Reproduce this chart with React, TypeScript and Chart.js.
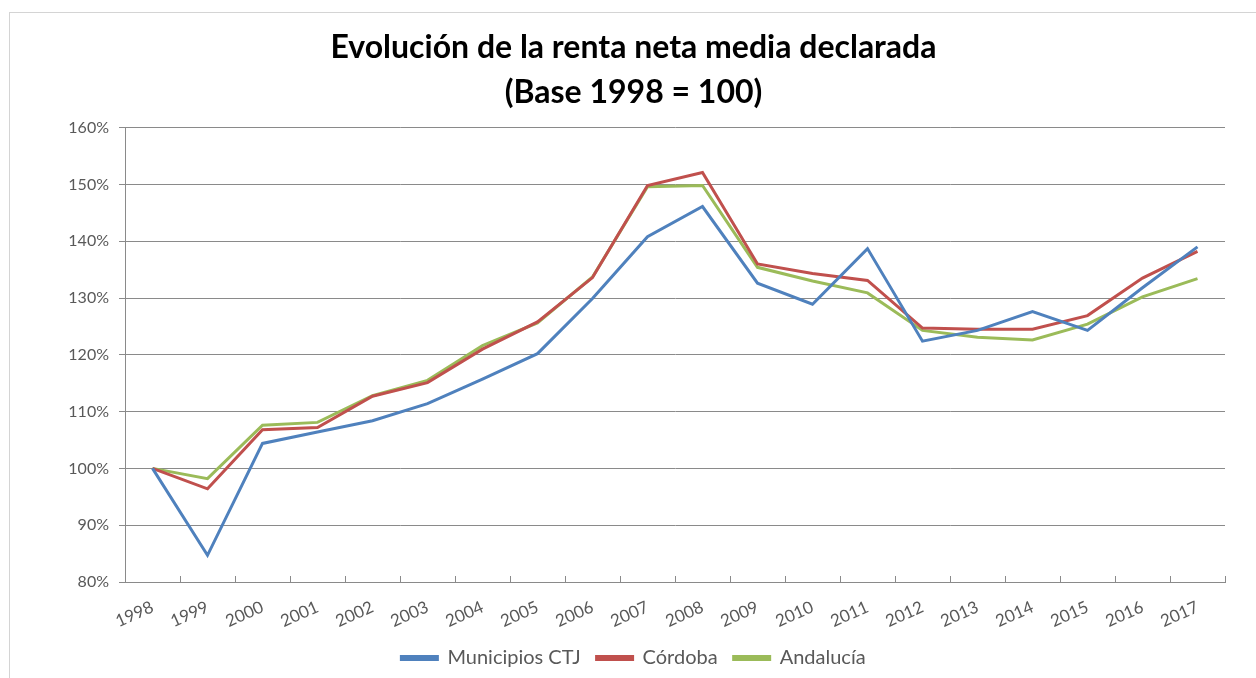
import React, { useEffect, useRef } from "react";
import { Chart, registerables } from "chart.js";

Chart.register(...registerables);

const years = ["1998","1999","2000","2001","2002","2003","2004","2005","2006","2007","2008","2009","2010","2011","2012","2013","2014","2015","2016","2017"];
const municipiosCTJ = [100, 84.7, 104.4, 106.4, 108.4, 111.4, 115.7, 120.2, 129.9, 140.8, 146.1, 132.6, 128.9, 138.7, 122.4, 124.3, 127.6, 124.3, 131.8, 139.0];
const cordoba = [100, 96.4, 106.8, 107.2, 112.7, 115.1, 121.0, 125.8, 133.6, 149.8, 152.1, 136.0, 134.3, 133.1, 124.7, 124.5, 124.5, 126.9, 133.5, 138.2];
const andalucia = [100, 98.2, 107.6, 108.1, 112.8, 115.5, 121.6, 125.6, 133.7, 149.6, 149.8, 135.4, 133.0, 130.9, 124.3, 123.1, 122.6, 125.4, 130.2, 133.4];
const seriesNames = ["Municipios CTJ", "Córdoba", "Andalucía"];
const seriesColors = ["#4F81BD", "#C0504D", "#9BBB59"];
const titleLines = ["Evolución de la renta neta media declarada", "(Base 1998 = 100)"];
const yMin = 80;
const yMax = 160;
const yStep = 10;

const GRID = "#8a8a8a";
const TEXT = "#595959";

const innerTicks = {
  id: "innerTicks",
  afterDraw(chart: any) {
    const xs = chart.scales.x;
    const ctx = chart.ctx;
    const y = chart.chartArea.bottom;
    const n = xs.ticks.length;
    ctx.save();
    ctx.strokeStyle = GRID;
    ctx.lineWidth = 1;
    for (let i = 0; i <= n; i++) {
      let px: number;
      if (i === 0) px = xs.left;
      else if (i === n) px = xs.right;
      else px = (xs.getPixelForTick(i - 1) + xs.getPixelForTick(i)) / 2;
      const rx = Math.round(px) + 0.5;
      ctx.beginPath();
      ctx.moveTo(rx, y);
      ctx.lineTo(rx, y - 6);
      ctx.stroke();
    }
    ctx.restore();
  },
};

export default function App() {
  const ref = useRef<HTMLCanvasElement | null>(null);
  useEffect(() => {
    if (!ref.current) return;
    const data = [municipiosCTJ, cordoba, andalucia];
    const chart = new Chart(ref.current, {
      type: "line",
      data: {
        labels: years,
        datasets: data.map((d, i) => ({
          label: seriesNames[i],
          data: d,
          borderColor: seriesColors[i],
          backgroundColor: seriesColors[i],
          borderWidth: 3,
          pointRadius: 0,
          tension: 0,
          fill: false,
        })),
      },
      options: {
        animation: false,
        responsive: false,
        maintainAspectRatio: false,
        layout: { padding: { left: 42, right: 31, top: 0, bottom: 0 } },
        plugins: {
          tooltip: { enabled: false },
          title: {
            display: true,
            text: titleLines,
            color: "#000",
            font: { family: "Lato", size: 32, weight: "bold", lineHeight: 1.4 },
            padding: { top: 25, bottom: 13 },
          },
          legend: {
            display: true,
            position: "bottom",
            labels: {
              font: { family: "Lato", size: 20 },
              color: TEXT,
              boxWidth: 36,
              boxHeight: 3,
              padding: 16,
            },
          },
        },
        scales: {
          x: {
            type: "category",
            offset: true,
            afterFit(scale: any) { scale.height = 50; },
            grid: { display: true, drawOnChartArea: false, drawTicks: false, offset: true },
            border: { display: true, color: GRID, width: 1 },
            ticks: {
              color: TEXT,
              font: { family: "Lato", size: 17 },
              minRotation: 24,
              maxRotation: 24,
              autoSkip: false,
              padding: 15,
            },
          },
          y: {
            min: yMin,
            max: yMax,
            afterFit(scale: any) { scale.width = 83; },
            grid: { color: GRID, lineWidth: 1, tickLength: 6, drawTicks: true },
            border: { display: true, color: GRID, width: 1 },
            ticks: {
              stepSize: yStep,
              color: TEXT,
              font: { family: "Lato", size: 16 },
              padding: 10,
              callback: (v: any) => `${v}%`,
            },
          },
        },
      },
      plugins: [innerTicks],
    } as any);
    return () => chart.destroy();
  }, []);

  return (
    <div>
      <div
        style={{
          position: "fixed",
          left: 9,
          top: 12,
          width: 1300,
          height: 700,
          border: "1px solid #d4d4d4",
          background: "#fff",
        }}
      />
      <canvas
        ref={ref}
        width={1256}
        height={678}
        style={{ position: "fixed", left: 0, top: 0, width: 1256, height: 678 }}
      />
    </div>
  );
}
